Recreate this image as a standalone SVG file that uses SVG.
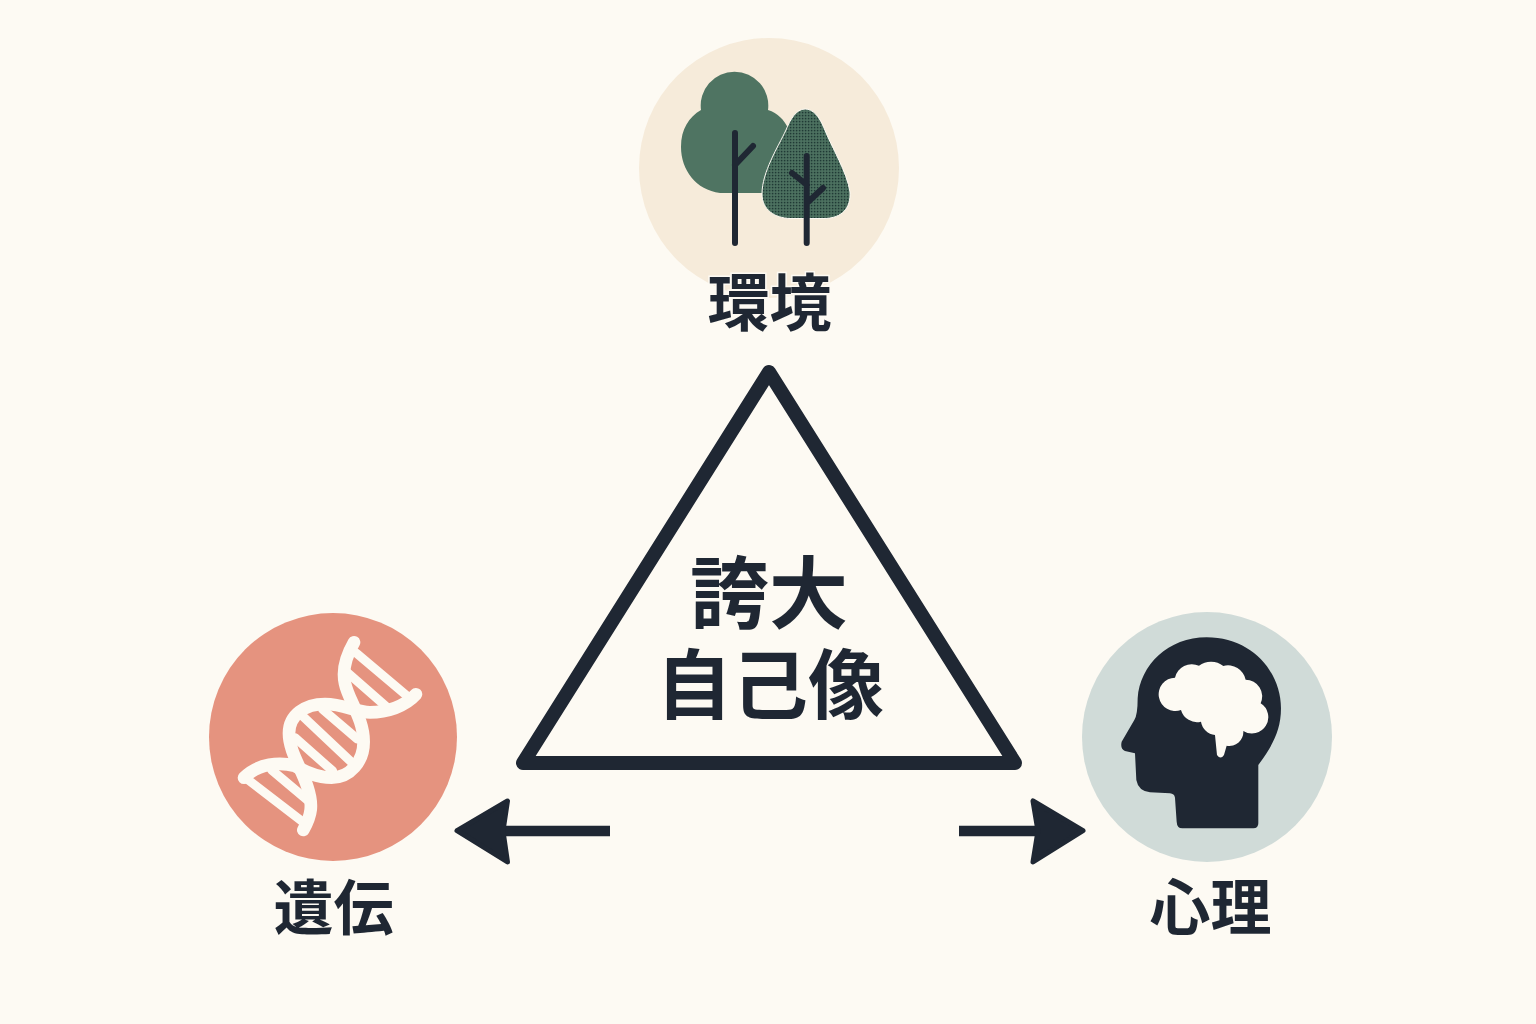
<svg xmlns="http://www.w3.org/2000/svg" width="1536" height="1024" viewBox="0 0 1536 1024">
<style>
.lb{font-family:"Noto Sans CJK JP","Noto Sans CJK SC",sans-serif;font-weight:700;fill:#1f2733;text-anchor:middle}
.tk{fill:none;stroke:#1f2733;stroke-linecap:round;stroke-linejoin:round}
.dn{fill:none;stroke:#fdfaf3;stroke-linecap:round;stroke-linejoin:round}
.hd{fill:#1f2733;stroke:#1f2733;stroke-width:5;stroke-linejoin:round}
</style>
<defs>
<pattern id="stipple" width="3" height="3" patternUnits="userSpaceOnUse"><rect width="3" height="3" fill="#4f7462"/><rect x=".8" y=".8" width="1.600" height="1.600" fill="#1f3a35"/></pattern>
</defs>
<rect width="1536" height="1024" fill="#fdfaf3"/>
<g id="node-environment">
<circle cx="769" cy="168" r="130" fill="#f6ebda"/>
<path d="M701 110A33.800 33.800 0 1 1 768 110C778 113 784 120 788 128L790 193H720C696 190 681 170 681 147C681 129 689 117 701 110Z" fill="#4f7462"/>
<path d="M805 109C796 109 790 120 786 130C778 147 762 172 762 194C762 210 775 218 790 218.500H825C842 218 851 208 850 192C847 172 832 148 824 128C819 116 813 109 805 109Z" fill="url(#stipple)" stroke="#fdfaf3" stroke-width="1"/>
<path class="tk" stroke-width="6" d="M735 133V243M735 165L753 146M806.700 156V243M792 173L807 185M823 188L808 202"/>
<text class="lb" x="769.500" y="326" font-size="62" style="paint-order:stroke;stroke:#fdfaf3;stroke-width:3px">環境</text>
</g>
<g id="node-center">
<path class="tk" stroke-width="14" d="M769 372L523 763H1015Z"/>
<text class="lb" font-size="79"><tspan x="769" y="623">誇大</tspan><tspan x="770" y="713" font-size="76">自己像</tspan></text>
</g>
<g id="node-heredity">
<circle cx="333" cy="737" r="124" fill="#e5937f"/>
<g transform="translate(200 605) scale(.3333)">
<path class="dn" stroke-width="38" d="M462 112C440 150 425 190 435 235C445 285 491 340 491 410C491 470 450 518 395 518C350 518 315 500 285 483C240 470 175 475 132 518"/>
<path class="dn" stroke-width="38" d="M648 268C615 305 560 322 510 322C470 322 430 297 375 297C315 297 267 330 267 385C267 440 305 490 322 545C340 600 335 630 310 675"/>
<path class="dn" stroke-width="27" d="M470 145L630 280M445 205L565 310M368 313L472 402M310 335L458 475M285 398L398 498M215 495L322 585M145 525L305 648"/>
</g>
<text class="lb" x="333.500" y="930" font-size="60">遺伝</text>
</g>
<g id="node-psychology">
<circle cx="1207" cy="737" r="125" fill="#d0dbd8"/>
<g transform="translate(1075 605) scale(.3333)">
<path fill="#1f2733" d="M305 650L300 578Q298 566 285 565L225 562Q190 558 184 525L180 445L150 438Q135 432 140 410L178 345Q188 330 188 280C195 180 280 97 395 97C530 97 618 200 618 310C618 380 590 425 550 480V655Q550 670 535 670H322Q306 670 305 650Z"/>
<path fill="#fdfaf3" d="M300 218A52 52 0 0 1 372 182A60 60 0 0 1 445 183A54 54 0 0 1 512 224A50 50 0 0 1 557 295A48 48 0 0 1 505 378A42 42 0 0 1 455 422L447 450Q437 465 426 450L420 390A48 48 0 0 1 378 350A50 50 0 0 1 318 315A50 50 0 1 1 300 218Z"/>
</g>
<text class="lb" x="1210.500" y="930" font-size="61">心理</text>
</g>
<g id="connectors">
<path class="tk" stroke-width="10.500" style="stroke-linecap:butt" d="M505 831H610"/>
<path class="hd" d="M457 830.700L507.500 801L503 831L507.500 862Z"/>
<path class="tk" stroke-width="10.500" style="stroke-linecap:butt" d="M959 831H1036"/>
<path class="hd" d="M1083 830.700L1033 801L1038 831L1033 862Z"/>
</g>
</svg>
